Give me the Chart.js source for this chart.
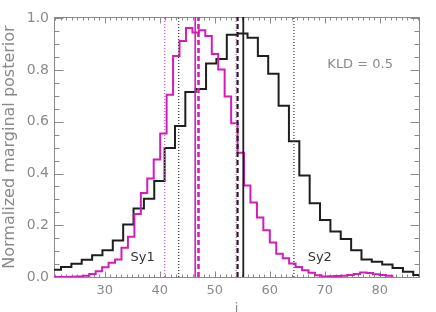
<!DOCTYPE html>
<html><head><meta charset="utf-8">
<script src="https://cdn.jsdelivr.net/npm/chart.js@4.4.1/dist/chart.umd.min.js"></script>
<style>html,body{margin:0;padding:0;background:#fff;}</style>
</head><body>
<canvas id="c" width="436" height="312"></canvas>
<script>
// ---- data ----
const blackEdges = [20.17,22.05,23.94,25.82,27.71,29.59,31.47,33.36,35.24,37.13,39.01,40.89,42.78,44.66,46.55,48.43,50.31,52.20,54.08,55.97,57.85,59.73,61.62,63.50,65.39,67.27,69.15,71.04,72.92,74.81,76.69,78.57,80.46,82.34,84.23,86.11,87.99];
const blackValues = [0.028,0.039,0.051,0.067,0.084,0.103,0.141,0.203,0.265,0.302,0.371,0.499,0.584,0.715,0.727,0.825,0.843,0.936,0.941,0.925,0.854,0.786,0.662,0.525,0.392,0.285,0.220,0.176,0.147,0.103,0.068,0.059,0.048,0.035,0.020,0.008];
const magentaEdges = [20.15,21.32,22.50,23.67,24.84,26.01,27.19,28.36,29.53,30.70,31.88,33.05,34.22,35.40,36.57,37.74,38.91,40.09,41.26,42.43,43.60,44.78,45.95,47.12,48.29,49.47,50.64,51.81,52.99,54.16,55.33,56.50,57.68,58.85,60.02,61.19,62.37,63.54,64.71,65.89,67.06,68.23,69.40,70.58,71.75,72.92,74.09,75.27,76.44,77.61,78.79,79.96,81.13,82.30];
const magentaValues = [0,0,0,0.001,0.002,0.005,0.012,0.022,0.038,0.055,0.068,0.113,0.156,0.244,0.325,0.381,0.454,0.555,0.704,0.854,0.912,0.962,0.945,0.954,0.932,0.862,0.802,0.698,0.594,0.480,0.354,0.288,0.230,0.181,0.133,0.090,0.072,0.052,0.039,0.026,0.016,0.007,0.002,0.003,0.004,0.005,0.008,0.012,0.017,0.015,0.011,0.008,0.005];
// vertical markers: [lower dotted, solid, dashed, upper dotted]
const magentaMarkers = [40.9, 46.45, 47.05, 53.9];
const blackMarkers = [43.45, 55.2, 54.15, 64.4];
const xTickValues = [30,40,50,60,70,80];
const yTickValues = [0,0.2,0.4,0.6,0.8,1.0];
const annotationTexts = ['Sy1','Sy2','KLD = 0.5'];

// ---- styling ----
const X_MIN = 20.78, X_MAX = 87.15, Y_MIN = 0, Y_MAX = 1.005;
const GRAY = '#8a8a8a';
const BLACK = '#1e1e1e';
const MAGENTA = '#d41cb6';
const MAGENTA_LIGHT = '#e05ccc';
Chart.defaults.font.family = "'DejaVu Sans', sans-serif";

function stepData(edges, vals) {
  const pts = vals.map((v, i) => ({x: edges[i], y: v}));
  pts.push({x: edges[vals.length], y: vals[vals.length - 1]});
  pts.push({x: edges[vals.length], y: 0});
  return pts;
}
function vline(v) { return [{x: v, y: Y_MIN}, {x: v, y: Y_MAX}]; }

const markerStyles = [
  {dash: [1, 2], width: 1.3},
  {dash: [], width: 1.6},
  {dash: [5, 3], width: 2.6},
  {dash: [1, 2], width: 1.3}
];
const lineSets = [];
magentaMarkers.forEach((v, i) => lineSets.push({
  data: vline(v), borderColor: i === 0 || i === 3 ? MAGENTA_LIGHT : MAGENTA,
  borderWidth: markerStyles[i].width, borderDash: markerStyles[i].dash,
  pointRadius: 0, order: 0
}));
const blackStyles = [
  {dash: [1, 2], width: 1.3},
  {dash: [], width: 1.8},
  {dash: [5, 3], width: 2.2},
  {dash: [1, 2], width: 1.3}
];
blackMarkers.forEach((v, i) => lineSets.push({
  data: vline(v), borderColor: i === 0 || i === 3 ? '#444' : BLACK,
  borderWidth: blackStyles[i].width, borderDash: blackStyles[i].dash,
  pointRadius: 0, order: 0
}));

const annotationPos = [
  {x: 36.9, y: 0.076, color: '#333', size: 13},
  {x: 69.1, y: 0.074, color: '#333', size: 13},
  {x: 76.45, y: 0.82, color: GRAY, size: 13}
];

const frameTicks = {
  id: 'frameTicks',
  beforeDatasetsDraw(chart) {
    const {ctx, chartArea: a, scales: {x, y}} = chart;
    const L = Math.round(a.left) + 0.5, R = Math.round(a.right) + 0.5;
    const T = Math.round(a.top) + 0.5, B = Math.round(a.bottom) + 0.5;
    ctx.save();
    ctx.strokeStyle = GRAY; ctx.lineWidth = 1;
    ctx.strokeRect(L, T, R - L, B - T);
    ctx.beginPath();
    for (let v = Math.ceil(X_MIN); v <= Math.floor(X_MAX); v++) {
      const px = Math.round(x.getPixelForValue(v)) + 0.5;
      const len = v % 10 === 0 ? 6 : 3;
      ctx.moveTo(px, B); ctx.lineTo(px, B - len);
      ctx.moveTo(px, T); ctx.lineTo(px, T + len);
    }
    for (let k = 0; k <= 20; k++) {
      const v = k * 0.05;
      const py = Math.round(y.getPixelForValue(v)) + 0.5;
      const len = k % 4 === 0 ? 9 : 5;
      ctx.moveTo(L, py); ctx.lineTo(L + len, py);
      ctx.moveTo(R, py); ctx.lineTo(R - len, py);
    }
    ctx.stroke();
    ctx.restore();
  },
  afterDatasetsDraw(chart) {
    const {ctx, scales: {x, y}} = chart;
    ctx.save();
    ctx.textAlign = 'center'; ctx.textBaseline = 'middle';
    annotationTexts.forEach((t, i) => {
      const p = annotationPos[i];
      ctx.fillStyle = p.color;
      ctx.font = p.size + "px 'DejaVu Sans', sans-serif";
      ctx.fillText(t, x.getPixelForValue(p.x), y.getPixelForValue(p.y));
    });
    ctx.restore();
  }
};

new Chart(document.getElementById('c'), {
  type: 'line',
  data: {
    datasets: [
      ...lineSets,
      {data: stepData(magentaEdges, magentaValues), borderColor: MAGENTA, borderWidth: 2, stepped: true, pointRadius: 0, order: 1},
      {data: stepData(blackEdges, blackValues), borderColor: BLACK, borderWidth: 2, stepped: true, pointRadius: 0, order: 2}
    ]
  },
  options: {
    responsive: false, animation: false, devicePixelRatio: 1,
    layout: {padding: {top: 17, right: 17, left: 0, bottom: 0}},
    plugins: {legend: {display: false}, tooltip: {enabled: false}},
    scales: {
      x: {
        type: 'linear', min: X_MIN, max: X_MAX,
        afterBuildTicks: s => { s.ticks = xTickValues.map(v => ({value: v})); },
        afterFit: s => { s.height = 35; },
        grid: {display: false, drawTicks: false}, border: {display: false},
        ticks: {color: GRAY, font: {size: 13}, padding: 6, autoSkip: false, maxRotation: 0},
        title: {display: true, text: 'i', color: GRAY, font: {size: 13}, padding: {top: 0, bottom: -4}}
      },
      y: {
        min: Y_MIN, max: Y_MAX,
        afterBuildTicks: s => { s.ticks = yTickValues.map(v => ({value: v})); },
        afterFit: s => { s.width = 54; },
        grid: {display: false, drawTicks: false}, border: {display: false},
        ticks: {color: GRAY, font: {size: 14}, padding: 5, callback: v => Number(v).toFixed(1)},
        title: {display: true, text: 'Normalized marginal posterior', color: GRAY, font: {size: 16}, padding: {top: 0, bottom: 0}}
      }
    }
  },
  plugins: [frameTicks]
});
</script>
</body></html>
